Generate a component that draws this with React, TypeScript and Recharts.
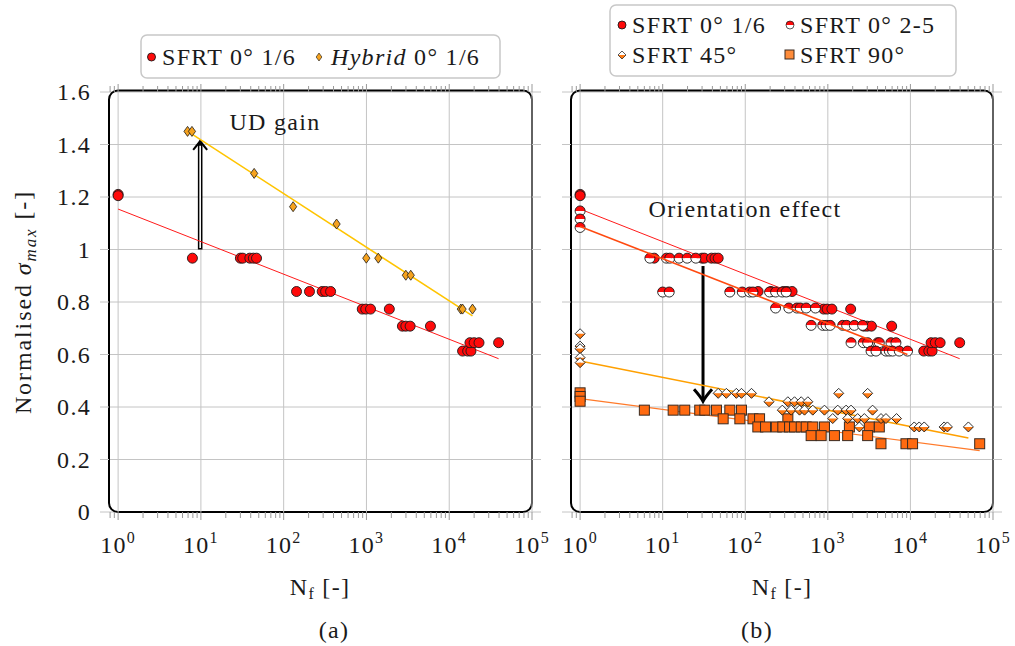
import React from 'react'
import {
  ScatterChart,
  Scatter,
  XAxis,
  YAxis,
  CartesianGrid,
  ReferenceLine,
  ReferenceArea,
} from 'recharts'

type Pt = [number, number]

// axis ticks
const xMajor = [1, 10, 100, 1000, 10000, 100000]
const xMinor = [
  0.8, 0.9, 2, 3, 4, 5, 6, 7, 8, 9, 20, 30, 40, 50, 60, 70, 80, 90, 200, 300, 400, 500, 600, 700, 800,
  900, 2000, 3000, 4000, 5000, 6000, 7000, 8000, 9000, 20000, 30000, 40000, 50000, 60000, 70000, 80000,
  90000,
]
const yTicks = [0, 0.2, 0.4, 0.6, 0.8, 1, 1.2, 1.4, 1.6]
const yLabels = ['0', '0.2', '0.4', '0.6', '0.8', '1', '1.2', '1.4', '1.6']
const xDomain: [number, number] = [0.776, 100000]

// (a) SFRT 0° 1/6 — [N_f, normalised sigma_max]
const sfrt0_16: Pt[] = [
  [1, 1.21], [1, 1.205], [7.9, 0.967], [30, 0.967], [32, 0.967], [39, 0.967], [43, 0.967], [47, 0.967],
  [143, 0.84], [205, 0.84], [292, 0.84], [321, 0.84], [369, 0.84],
  [890, 0.773], [980, 0.773], [1120, 0.773], [1890, 0.773],
  [2720, 0.708], [2990, 0.708], [3370, 0.708], [5930, 0.708],
  [14500, 0.613], [16700, 0.613], [18300, 0.613],
  [17800, 0.645], [20000, 0.645], [22900, 0.645], [39500, 0.645],
]
const hybrid0_16: Pt[] = [
  [6.9, 1.45], [7.8, 1.45], [44, 1.29], [130, 1.163], [436, 1.097], [996, 0.967], [1390, 0.967],
  [2990, 0.902], [3430, 0.902], [13800, 0.773], [14500, 0.773], [19100, 0.773],
]
const fitSfrt0_16: Pt[] = [[1, 1.154], [39500, 0.584]]
const fitHybrid0_16: Pt[] = [[7.4, 1.444], [19100, 0.747]]

// (b)
const sfrt0_25: Pt[] = [
  [1, 1.147], [1, 1.116], [1, 1.084],
  [7, 0.967], [11.1, 0.967], [12.2, 0.967], [15.8, 0.967], [19.8, 0.967], [25.2, 0.967],
  [10, 0.838], [12, 0.838], [65, 0.838], [92, 0.838], [113, 0.838], [124, 0.838], [197, 0.838],
  [233, 0.838], [280, 0.838], [313, 0.838],
  [233, 0.777], [337, 0.777], [422, 0.777], [463, 0.777], [547, 0.777], [708, 0.777],
  [628, 0.711], [869, 0.711], [955, 0.711], [1067, 0.711], [1514, 0.711], [1690, 0.711], [2094, 0.711],
  [2640, 0.711],
  [1910, 0.645], [2690, 0.645], [3035, 0.645], [4010, 0.645], [4200, 0.645], [5810, 0.645], [6680, 0.645],
  [3335, 0.613], [3830, 0.613], [5060, 0.613], [5550, 0.613], [6080, 0.613], [7330, 0.613], [9230, 0.613],
]
const sfrt45: Pt[] = [
  [1, 0.679], [1, 0.632], [1, 0.622], [1, 0.588], [1, 0.569],
  [47, 0.452], [59, 0.452], [78, 0.452], [90, 0.452], [119, 0.452], [1355, 0.452], [3035, 0.452],
  [194, 0.42], [328, 0.42], [395, 0.42], [476, 0.42], [573, 0.42],
  [281, 0.388], [360, 0.388], [454, 0.388], [522, 0.388], [657, 0.388], [910, 0.388], [1318, 0.388],
  [1663, 0.388], [1910, 0.388], [3483, 0.388],
  [1146, 0.356], [1738, 0.356], [2296, 0.356], [2767, 0.356], [4405, 0.356], [5058, 0.356], [6790, 0.356],
  [2410, 0.324], [11120, 0.324], [12770, 0.324], [14690, 0.324], [25590, 0.324], [28050, 0.324],
  [50350, 0.324],
]
const sfrt90: Pt[] = [
  [1, 0.454], [1, 0.44], [1, 0.422],
  [6, 0.388], [13.4, 0.388], [18.5, 0.388], [28.1, 0.388], [32.4, 0.388], [44.8, 0.388], [65, 0.388],
  [90, 0.388],
  [54, 0.355], [86, 0.355], [124, 0.355], [149, 0.355], [328, 0.355],
  [142, 0.324], [176, 0.324], [238, 0.324], [285, 0.324], [344, 0.324], [395, 0.324], [476, 0.324],
  [547, 0.324], [657, 0.324], [910, 0.324], [1824, 0.324], [3180, 0.324], [4200, 0.324],
  [628, 0.291], [830, 0.291], [1202, 0.291], [1738, 0.291], [3035, 0.291],
  [4400, 0.26], [8830, 0.26], [10620, 0.26], [69000, 0.26],
]
const fitSfrt0_25: Pt[] = [[1, 1.088], [9200, 0.6]]
const fitSfrt45: Pt[] = [[1, 0.575], [50350, 0.282]]
const fitSfrt90: Pt[] = [[1, 0.432], [69000, 0.234]]

// annotation arrows: [N_f, from, to]
const udGainArrow = [9.8, 1.0, 1.414]
const orientationArrow = [30.8, 0.937, 0.422]

const GRID = '#c4c4c4'
const INK = '#1a1a1a'
const RED = '#ff0a0a'

const xTicks = [...xMajor, ...xMinor].sort((a, b) => a - b)
const toPts = (a: Pt[]) => a.map(([n, v]) => ({ n, v }))

// only the bare family name resolves to the serif face here
const txt = { fontFamily: '"Liberation Serif"', fontSize: 24, letterSpacing: 1.3 }

const BottomTick = (p: any) => {
  const v = p.payload.value
  const major = xMajor.includes(v)
  const e = Math.round(Math.log10(v))
  return (
    <g>
      <line x1={p.x} x2={p.x} y1={p.y} y2={p.y + (major ? 8 : 6)} stroke="#999" />
      {major && (
        <text x={p.x} y={p.y + 41} textAnchor="middle" style={txt} fill={INK}>
          10
          <tspan dy={-10} style={{ fontSize: 16 }}>
            {e}
          </tspan>
        </text>
      )}
    </g>
  )
}

const TopTick = (p: any) => {
  const major = xMajor.includes(p.payload.value)
  return <line x1={p.x} x2={p.x} y1={p.y} y2={p.y - (major ? 8 : 6)} stroke="#999" />
}

const YLabel = (p: any) => {
  const i = yTicks.indexOf(p.payload.value)
  return (
    <text x={p.x + 1} y={p.y + 8} textAnchor="end" style={txt} fill={INK}>
      {yLabels[i]}
    </text>
  )
}

const Empty = () => <g />

const dot = (fill: string, r = 5) => (p: any) =>
  <circle cx={p.cx} cy={p.cy} r={r} fill={fill} stroke={INK} strokeWidth={0.9} />

const halfDot = (p: any) => {
  const { cx, cy } = p
  const r = 5
  return (
    <g>
      <path d={`M${cx - r},${cy} A${r},${r} 0 0 1 ${cx + r},${cy} Z`} fill={RED} />
      <path d={`M${cx - r},${cy} A${r},${r} 0 0 0 ${cx + r},${cy} Z`} fill="#fff" />
      <circle cx={cx} cy={cy} r={r} fill="none" stroke={INK} strokeWidth={0.9} />
    </g>
  )
}

const diamond = (p: any) => {
  const { cx, cy } = p
  return (
    <polygon
      points={`${cx},${cy - 5} ${cx + 3.6},${cy} ${cx},${cy + 5} ${cx - 3.6},${cy}`}
      fill="#f5a21e"
      stroke={INK}
      strokeWidth={0.8}
    />
  )
}

const halfDiamond = (p: any) => {
  const { cx, cy } = p
  const w = 5
  return (
    <g>
      <polygon points={`${cx - w},${cy} ${cx},${cy - w} ${cx + w},${cy}`} fill="#fff" />
      <polygon points={`${cx - w},${cy} ${cx},${cy + w} ${cx + w},${cy}`} fill="#ff7a12" />
      <polygon
        points={`${cx},${cy - w} ${cx + w},${cy} ${cx},${cy + w} ${cx - w},${cy}`}
        fill="none"
        stroke={INK}
        strokeWidth={0.9}
      />
    </g>
  )
}

const square = (p: any) => (
  <rect x={p.cx - 5} y={p.cy - 5} width={10} height={10} fill="#ff6a10" stroke="#3a2a20" strokeWidth={1} />
)

const frameShape = (p: any) => (
  <rect x={p.x} y={p.y - 1.5} width={p.width} height={p.height + 1.5} rx={9} fill="none" stroke="#000" strokeWidth={2} />
)

const doubleArrow = (p: any) => {
  const { x1, y1, y2 } = p
  return (
    <g>
      <line x1={x1} x2={x1} y1={y1} y2={y2 + 2} stroke="#000" strokeWidth={4.6} />
      <line x1={x1} x2={x1} y1={y1 - 1.5} y2={y2 + 5} stroke="#fff" strokeWidth={1.6} />
      <path
        d={`M${x1 - 7},${y2 + 9} Q${x1 - 2},${y2 + 3} ${x1},${y2} Q${x1 + 2},${y2 + 3} ${x1 + 7},${y2 + 9}`}
        fill="none"
        stroke="#000"
        strokeWidth={2}
      />
    </g>
  )
}

const downArrow = (p: any) => {
  const { x1, y1, y2 } = p
  return (
    <g>
      <line x1={x1} x2={x1} y1={y1} y2={y2 - 1} stroke="#000" strokeWidth={3} />
      <path
        d={`M${x1 - 9},${y2 - 12} Q${x1 - 2},${y2 - 4} ${x1},${y2} Q${x1 + 2},${y2 - 4} ${x1 + 9},${y2 - 12}`}
        fill="none"
        stroke="#000"
        strokeWidth={3}
      />
    </g>
  )
}

const fit = (data: Pt[], stroke: string, w = 1) => (
  <Scatter
    data={toPts(data)}
    line={{ stroke, strokeWidth: w }}
    shape={Empty}
    isAnimationActive={false}
    legendType="none"
  />
)

function Panel({
  width,
  margin,
  yLabels: showY,
  children,
}: {
  width: number
  margin: { top: number; right: number; bottom: number; left: number }
  yLabels: boolean
  children: React.ReactNode
}) {
  return (
    <ScatterChart width={width} height={646} margin={margin}>
      <CartesianGrid vertical={false} stroke={GRID} />
      <XAxis
        type="number"
        dataKey="n"
        scale="log"
        domain={xDomain}
        allowDataOverflow
        ticks={xTicks}
        interval={0}
        tick={BottomTick}
        tickLine={false}
        tickSize={0}
        tickMargin={0}
        axisLine={false}
        height={40}
      />
      <XAxis
        xAxisId="top"
        orientation="top"
        type="number"
        dataKey="n"
        scale="log"
        domain={xDomain}
        allowDataOverflow
        ticks={xTicks}
        interval={0}
        tick={TopTick}
        tickLine={false}
        tickSize={0}
        tickMargin={0}
        axisLine={false}
        height={10}
      />
      <YAxis
        type="number"
        dataKey="v"
        domain={[0, 1.6]}
        allowDataOverflow
        ticks={yTicks}
        interval={0}
        tick={showY ? YLabel : Empty}
        tickSize={9}
        tickMargin={10}
        tickLine={{ stroke: GRID }}
        axisLine={false}
        width={100}
      />
      <YAxis
        yAxisId="right"
        orientation="right"
        type="number"
        domain={[0, 1.6]}
        allowDataOverflow
        ticks={yTicks}
        interval={0}
        tick={Empty}
        tickSize={9}
        tickLine={{ stroke: GRID }}
        axisLine={false}
        width={10}
      />
      {xMajor.map((m) => (
        <ReferenceLine key={m} x={m} stroke={GRID} ifOverflow="visible" />
      ))}
      <ReferenceArea x1={xDomain[0]} x2={xDomain[1]} y1={0} y2={1.6} shape={frameShape} ifOverflow="visible" />
      {children}
    </ScatterChart>
  )
}

export default function App() {
  return (
    <div style={{ position: 'absolute', left: 0, top: 0, width: 1015, height: 646, background: '#fff' }}>
      <div style={{ position: 'absolute', left: 0, top: 0 }}>
        <Panel width={560} margin={{ top: 82, right: 18, bottom: 94, left: 9 }} yLabels>
          {fit(fitSfrt0_16, '#ff1a1a', 1)}
          {fit(fitHybrid0_16, '#ffc400', 1.6)}
          <ReferenceLine
            segment={[
              { x: udGainArrow[0], y: udGainArrow[1] },
              { x: udGainArrow[0], y: udGainArrow[2] },
            ]}
            shape={doubleArrow}
          />
          <Scatter data={toPts(sfrt0_16)} shape={dot(RED)} isAnimationActive={false} />
          <Scatter data={toPts(hybrid0_16)} shape={diamond} isAnimationActive={false} />
        </Panel>
      </div>
      <div style={{ position: 'absolute', left: 470, top: 0 }}>
        <Panel width={545} margin={{ top: 82, right: 12, bottom: 94, left: 1 }} yLabels={false}>
          {fit(fitSfrt0_16, '#ff1a1a', 1)}
          {fit(fitSfrt45, '#ffa000', 1.6)}
          {fit(fitSfrt90, '#ff7a2a', 1.2)}
          <ReferenceLine
            segment={[
              { x: orientationArrow[0], y: orientationArrow[1] },
              { x: orientationArrow[0], y: orientationArrow[2] },
            ]}
            shape={downArrow}
          />
          <Scatter data={toPts(sfrt90)} shape={square} isAnimationActive={false} />
          <Scatter data={toPts(sfrt45)} shape={halfDiamond} isAnimationActive={false} />
          <Scatter data={toPts(sfrt0_16)} shape={dot(RED)} isAnimationActive={false} />
          <Scatter data={toPts(sfrt0_25)} shape={halfDot} isAnimationActive={false} />
          {fit(fitSfrt0_25, '#ff4a10', 1.6)}
        </Panel>
      </div>
      <svg
        width={1015}
        height={646}
        style={{ position: 'absolute', left: 0, top: 0, pointerEvents: 'none' }}
      >
        <g style={txt} fill={INK}>
          <text transform="translate(31,302) rotate(-90)" textAnchor="middle" style={{ letterSpacing: 1.9 }}>
            Normalised <tspan fontStyle="italic">σ</tspan>
            <tspan fontStyle="italic" style={{ fontSize: 17 }} dy={5}>
              max
            </tspan>
            <tspan dy={-5}> [-]</tspan>
          </text>
          <text x={320} y={595} textAnchor="middle">
            N<tspan style={{ fontSize: 16 }} dy={4}>f</tspan>
            <tspan dy={-4}> [-]</tspan>
          </text>
          <text x={782} y={595} textAnchor="middle">
            N<tspan style={{ fontSize: 16 }} dy={4}>f</tspan>
            <tspan dy={-4}> [-]</tspan>
          </text>
          <text x={334} y={638} textAnchor="middle">
            (a)
          </text>
          <text x={757} y={638} textAnchor="middle">
            (b)
          </text>
          <text x={275} y={130} textAnchor="middle">
            UD gain
          </text>
          <text x={745} y={217} textAnchor="middle">
            Orientation effect
          </text>

          <rect x={141} y={35} width={359} height={43} rx={6} fill="#fff" stroke="#c8c8c8" strokeWidth={1.5} />
          {dot(RED, 4)({ cx: 151.5, cy: 57 })}
          <text x={162} y={65}>SFRT 0° 1/6</text>
          <g transform="translate(319,57) scale(0.8)">{diamond({ cx: 0, cy: 0 })}</g>
          <text x={331} y={65}>
            <tspan fontStyle="italic">Hybrid</tspan> 0° 1/6
          </text>

          <rect x={610} y={5} width={346} height={71} rx={6} fill="#fff" stroke="#c8c8c8" strokeWidth={1.5} />
          {dot(RED, 4)({ cx: 622, cy: 25 })}
          <text x={632} y={33}>SFRT 0° 1/6</text>
          <g transform="translate(790,25) scale(0.8)">{halfDot({ cx: 0, cy: 0 })}</g>
          <text x={800} y={33}>SFRT 0° 2-5</text>
          <g transform="translate(622,55) scale(0.8)">{halfDiamond({ cx: 0, cy: 0 })}</g>
          <text x={632} y={63}>SFRT 45°</text>
          <rect x={785} y={50} width={9} height={9} fill="#ff8c3a" stroke="#3a2a20" strokeWidth={1} />
          <text x={800} y={63}>SFRT 90°</text>
        </g>
      </svg>
    </div>
  )
}
